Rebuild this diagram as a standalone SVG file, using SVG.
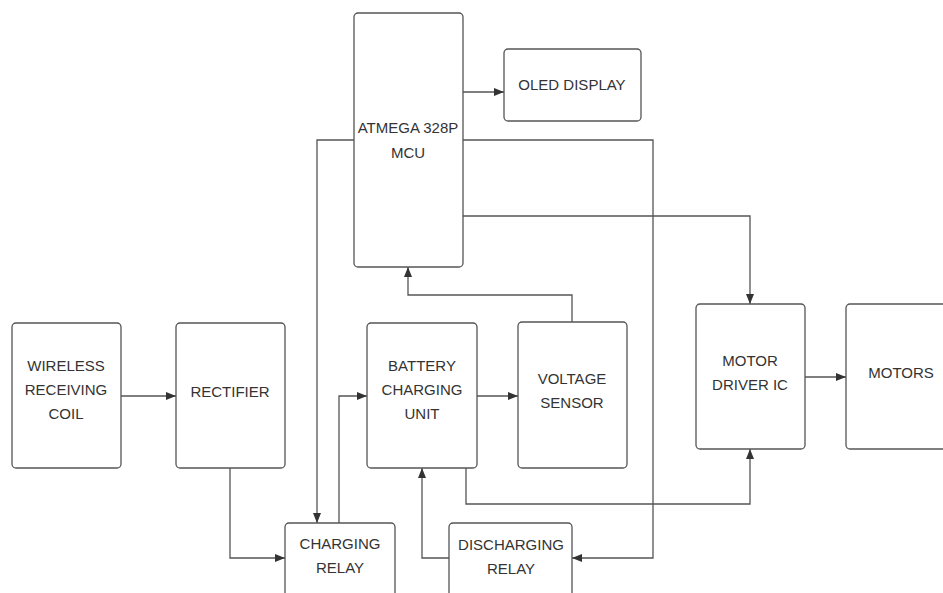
<svg xmlns="http://www.w3.org/2000/svg" width="943" height="593" viewBox="0 0 943 593">
<style>
.box{fill:#fff;stroke:#555;stroke-width:1.3}
.lbl{font-family:"Liberation Sans",Arial,sans-serif;font-size:15px;fill:#333;text-anchor:middle}
.con{fill:none;stroke:#555;stroke-width:1.3;marker-end:url(#ah)}
</style>
<defs>
<marker id="ah" viewBox="0 0 10 8" refX="10" refY="4" markerWidth="10" markerHeight="8" markerUnits="userSpaceOnUse" orient="auto">
<path d="M0,0 L10,4 L0,8 Z" fill="#333"/>
</marker>
</defs>
<rect width="943" height="593" fill="#fff"/>
<g id="connectors">
<path class="con" d="M463,92 H504"/>
<path class="con" d="M354,140 H317 V523"/>
<path class="con" d="M463,140 H653 V558 H572"/>
<path class="con" d="M463,216 H750 V304"/>
<path class="con" d="M572,322 V295 H408 V267"/>
<path class="con" d="M121,396 H176"/>
<path class="con" d="M230,468 V558 H285"/>
<path class="con" d="M339,523 V396 H367"/>
<path class="con" d="M477,396 H518"/>
<path class="con" d="M449,558 H422 V468"/>
<path class="con" d="M466,468 V504 H750 V449"/>
<path class="con" d="M805,377 H846"/>
</g>
<g id="atmega"><rect class="box" x="354" y="13" width="109" height="254" rx="4"/>
<text class="lbl" x="408" y="133">ATMEGA 328P</text><text class="lbl" x="408" y="158">MCU</text></g>
<g id="oled"><rect class="box" x="504" y="49" width="137" height="72" rx="4"/>
<text class="lbl" x="572" y="90">OLED DISPLAY</text></g>
<g id="coil"><rect class="box" x="12" y="323" width="109" height="145" rx="4"/>
<text class="lbl" x="66" y="371">WIRELESS</text><text class="lbl" x="66" y="395">RECEIVING</text><text class="lbl" x="66" y="419">COIL</text></g>
<g id="rectifier"><rect class="box" x="176" y="323" width="109" height="145" rx="4"/>
<text class="lbl" x="230" y="397">RECTIFIER</text></g>
<g id="battery"><rect class="box" x="367" y="323" width="110" height="145" rx="4"/>
<text class="lbl" x="422" y="371">BATTERY</text><text class="lbl" x="422" y="395">CHARGING</text><text class="lbl" x="422" y="419">UNIT</text></g>
<g id="voltage"><rect class="box" x="518" y="322" width="109" height="146" rx="4"/>
<text class="lbl" x="572" y="384">VOLTAGE</text><text class="lbl" x="572" y="408">SENSOR</text></g>
<g id="driver"><rect class="box" x="696" y="304" width="109" height="145" rx="4"/>
<text class="lbl" x="750" y="366">MOTOR</text><text class="lbl" x="750" y="390">DRIVER IC</text></g>
<g id="motors"><rect class="box" x="846" y="304" width="120" height="145" rx="4"/>
<text class="lbl" x="901" y="378">MOTORS</text></g>
<g id="crelay"><rect class="box" x="285" y="523" width="110" height="80" rx="4"/>
<text class="lbl" x="340" y="549">CHARGING</text><text class="lbl" x="340" y="573">RELAY</text></g>
<g id="drelay"><rect class="box" x="449" y="523" width="123" height="80" rx="4"/>
<text class="lbl" x="511" y="550">DISCHARGING</text><text class="lbl" x="511" y="574">RELAY</text></g>
</svg>
